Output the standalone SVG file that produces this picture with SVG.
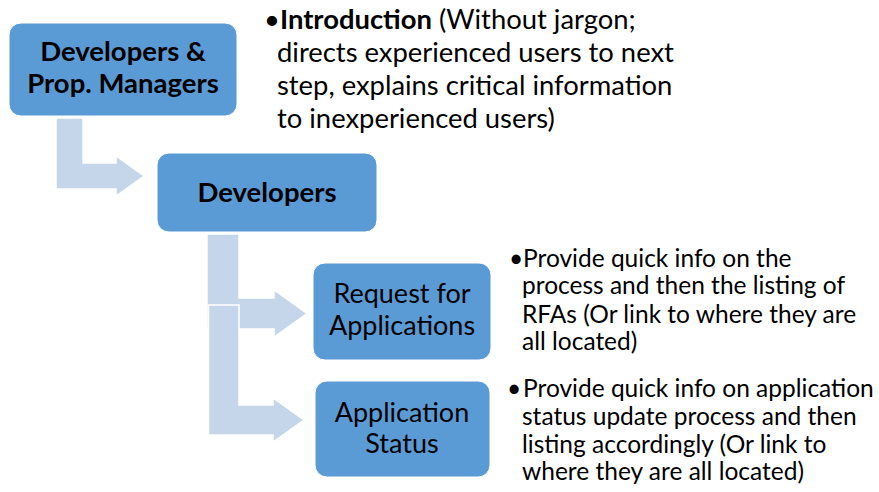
<svg xmlns="http://www.w3.org/2000/svg" width="879" height="492" viewBox="0 0 879 492">
<style>
.box{fill:#5B9BD5;stroke:#ffffff;stroke-width:1}
.arr{fill:#C5D5EA;stroke:#ffffff;stroke-width:1.5}
.t{font-family:Lato,"Liberation Sans",sans-serif;fill:#000000}
.bt{font-size:27px;text-anchor:middle}
.b{font-weight:bold}
.bb{font-size:27.5px}
.up{font-size:27.4px}
.lo{font-size:24.5px}
</style>
<rect width="879" height="492" fill="#ffffff"/>
<g id="connectors">
<path class="arr" d="M56,118 H83 V163 H116 V156 L144,176 L116,196 V189 H56 Z"/>
<path class="arr" d="M207,234 H239 V298 H274 V290 L307,313.5 L274,337 V329 H207 Z"/>
<path class="arr" d="M208.5,305 H239 V405 H273 V398 L304,420 L273,442 V435 H208.5 Z"/>
</g>
<g id="node-devpm">
<rect class="box" x="9" y="23" width="228" height="93" rx="12"/>
<text class="t bt b bb" x="123" y="61">Developers &amp;</text>
<text class="t bt b bb" x="123" y="93">Prop. Managers</text>
</g>
<g id="node-developers">
<rect class="box" x="157" y="153" width="220" height="79" rx="12"/>
<text class="t bt b bb" x="267" y="202">Developers</text>
</g>
<g id="node-rfa">
<rect class="box" x="313" y="263" width="178" height="97" rx="12"/>
<text class="t bt" x="402" y="303">Request for</text>
<text class="t bt" x="402" y="335">Applications</text>
</g>
<g id="node-status">
<rect class="box" x="315" y="381" width="175" height="96" rx="12"/>
<text class="t bt" x="402" y="422">Application</text>
<text class="t bt" x="402" y="453">Status</text>
</g>
<g id="note-intro">
<text class="t up" y="29"><tspan x="264">•</tspan><tspan x="280" class="b">Introduction</tspan> (Without jargon;</text>
<text class="t up" x="277" y="62">directs experienced users to next</text>
<text class="t up" x="277" y="95">step, explains critical information</text>
<text class="t up" x="277" y="128">to inexperienced users)</text>
</g>
<g id="note-rfa">
<text class="t lo" y="267"><tspan x="509">•</tspan><tspan x="523">Provide quick info on the</tspan></text>
<text class="t lo" x="522" y="294">process and then the listing of</text>
<text class="t lo" x="522" y="323">RFAs (Or link to where they are</text>
<text class="t lo" x="522" y="350">all located)</text>
</g>
<g id="note-status">
<text class="t lo" y="397"><tspan x="507">•</tspan><tspan x="523">Provide quick info on application</tspan></text>
<text class="t lo" x="522" y="425">status update process and then</text>
<text class="t lo" x="522" y="453">listing accordingly (Or link to</text>
<text class="t lo" x="522" y="480">where they are all located)</text>
</g>
</svg>
